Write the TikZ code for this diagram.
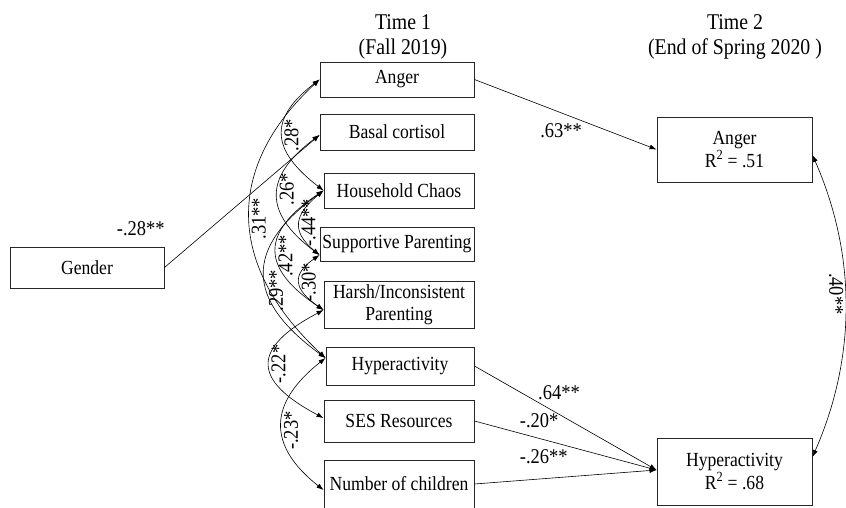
\documentclass[tikz,border=0pt]{standalone}
\usepackage{fontspec}
\setmainfont{Liberation Serif}[FakeStretch=0.88]
\usetikzlibrary{arrows.meta}

\begin{document}
\begin{tikzpicture}[x=1pt, y=1pt, var/.style={draw=black!85, line width=0.9pt, minimum width=154pt, minimum height=35pt, inner sep=0pt, align=center, font=\fontsize{20}{22.5}\selectfont}, reg/.style={-{Latex[length=7pt, width=5pt]}, line width=0.6pt}, cov/.style={{Latex[length=7pt, width=5pt]}-{Latex[length=7pt, width=5pt]}, line width=0.6pt}, coef/.style={font=\fontsize{21}{23}\selectfont, inner sep=1.5pt}, title/.style={font=\fontsize{22.5}{26}\selectfont, anchor=base}]
	\useasboundingbox (0,0) rectangle (846,507);
	% time headings
	\node[title] (t1) at (403,477) {Time 1};
	\node[title] (t1sub) at (403,452) {(Fall 2019)};
	\node[title] (t2) at (735,477) {Time 2};
	\node[title] (t2sub) at (735,452) {(End of Spring 2020 )};
	% time 1 variables
	\node[var] (anger1) at (397,427.5) {Anger};
	\node[var, minimum height=36pt] (basal) at (397,375) {Basal cortisol};
	\node[var, minimum width=150pt] (chaos) at (399,316.5) {Household Chaos};
	\node[var, minimum height=34pt] (support) at (397,263) {Supportive Parenting};
	\node[var, minimum width=150pt, minimum height=47pt] (harsh) at (399,202.5) {Harsh/Inconsistent\\Parenting};
	\node[var, minimum width=148pt, minimum height=38pt] (hyper1) at (400,141) {Hyperactivity};
	\node[var, minimum width=150pt, minimum height=42pt] (ses) at (399,86) {SES Resources};
	\node[var, minimum width=150pt, minimum height=48pt] (nchild) at (399,23) {Number of children};
	\node[var, minimum height=41pt] (gender) at (87,239.5) {Gender};
	% time 2 variables
	\node[var, minimum width=155pt, minimum height=65pt] (anger2) at (734.5,357.5) {Anger\\R\textsuperscript{2} = .51};
	\node[var, minimum width=155pt, minimum height=67pt] (hyper2) at (734.5,35.5) {Hyperactivity\\R\textsuperscript{2} = .68};
	% paths
	\draw[reg] (gender.east) -- ([yshift=-3pt]basal.west) node[coef, pos=0, anchor=south east, xshift=2pt, yshift=30pt] {-.28**};
	\draw[reg] (anger1.east) -- (anger2.west) node[coef, pos=0.6, anchor=north east] {.63**};
	\draw[reg] (hyper1.east) -- ([yshift=1.5pt]hyper2.west) node[coef, pos=0.34, anchor=south west] {.64**};
	\draw[reg] (ses.east) -- ([yshift=1.5pt]hyper2.west) node[coef, pos=0.24, anchor=south west, yshift=3pt] {-.20*};
	\draw[reg] (nchild.east) -- ([yshift=1.5pt]hyper2.west) node[coef, pos=0.24, anchor=south west, yshift=15pt] {-.26**};
	% correlations at time 1
	\draw[cov] (anger1.west) .. controls +(-52,-40) and +(-52,40) .. (chaos.west) node[coef, pos=0.5, rotate=90, anchor=north] {.28*};
	\draw[cov] (anger1.west) .. controls +(-97,-90) and +(-97,90) .. ([yshift=8pt]hyper1.west) node[coef, pos=0.5, rotate=90, anchor=north] {.31**};
	\draw[cov] ([yshift=-3pt]basal.west) .. controls +(-56,-42) and +(-56,42) .. ([yshift=-11pt]support.west) node[coef, pos=0.45, rotate=90, anchor=north] {.26*};
	\draw[cov] (chaos.west) .. controls +(-29,-24) and +(-29,24) .. ([yshift=-11pt]support.west) node[coef, pos=0.5, rotate=90, anchor=north] {-.44**};
	\draw[cov] (chaos.west) .. controls +(-63,-42) and +(-63,42) .. ([yshift=-5.5pt]harsh.west) node[coef, pos=0.55, rotate=90, anchor=north] {.42**};
	\draw[cov] (chaos.west) .. controls +(-80,-58) and +(-80,58) .. ([yshift=8pt]hyper1.west) node[coef, pos=0.6, rotate=90, anchor=north] {.29**};
	\draw[cov] ([yshift=-11pt]support.west) .. controls +(-29,-20) and +(-29,20) .. ([yshift=-5.5pt]harsh.west) node[coef, pos=0.5, rotate=90, anchor=north] {-.30*};
	\draw[cov] ([yshift=-5.5pt]harsh.west) .. controls +(-72,-38) and +(-72,38) .. ([yshift=3pt]ses.west) node[coef, pos=0.5, rotate=90, anchor=north] {-.22*};
	\draw[cov] ([yshift=8pt]hyper1.west) .. controls +(-57,-45) and +(-57,45) .. ([yshift=-6pt]nchild.west) node[coef, pos=0.55, rotate=90, anchor=north] {-.23*};
	% correlation at time 2
	\draw[cov] ([yshift=-5.5pt]anger2.east) .. controls +(44,-100) and +(44,100) .. ([yshift=14.5pt]hyper2.east) node[coef, pos=0.46, rotate=-90, anchor=north] {.40**};
\end{tikzpicture}
\end{document}
